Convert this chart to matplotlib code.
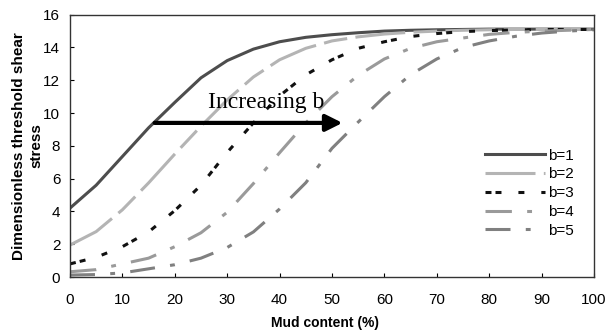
import numpy as np
import matplotlib
matplotlib.use("Agg")
import matplotlib.pyplot as plt

plt.rcParams['font.family'] = ['Liberation Sans', 'DejaVu Sans']
plt.rcParams['lines.scale_dashes'] = False

# mud content (%) and dimensionless threshold shear stress for each b
mud = [0, 5, 10, 15, 20, 25, 30, 35, 40, 45, 50, 55, 60, 65, 70, 75, 80, 85, 90, 95, 100]
b1 = [4.2, 5.6, 7.35, 9.1, 10.65, 12.15, 13.2, 13.9, 14.35, 14.62, 14.78, 14.9, 15.0, 15.05,
      15.08, 15.1, 15.12, 15.12, 15.12, 15.12, 15.12]
b2 = [1.95, 2.77, 4.1, 5.74, 7.5, 9.2, 10.8, 12.2, 13.25, 13.95, 14.4, 14.65, 14.82, 14.93,
      15.0, 15.05, 15.08, 15.1, 15.1, 15.1, 15.1]
b3 = [0.8, 1.2, 1.85, 2.75, 4.05, 5.6, 7.6, 9.4, 11.05, 12.33, 13.25, 13.95, 14.35, 14.67,
      14.85, 14.97, 15.03, 15.07, 15.1, 15.1, 15.1]
b4 = [0.32, 0.45, 0.8, 1.15, 1.85, 2.7, 3.95, 5.7, 7.58, 9.4, 11.0, 12.3, 13.3, 13.95,
      14.35, 14.58, 14.8, 14.92, 15.0, 15.05, 15.1]
b5 = [0.12, 0.15, 0.25, 0.5, 0.75, 1.15, 1.8, 2.75, 4.15, 5.75, 7.85, 9.45, 11.0, 12.34,
      13.3, 14.0, 14.4, 14.68, 14.88, 15.0, 15.08]
labels = ['b=1', 'b=2', 'b=3', 'b=4', 'b=5']

fig = plt.figure(figsize=(6.16, 3.31), dpi=100)
ax = fig.add_axes([0.1136, 0.1631, 0.8507, 0.7925])

lw = 2.2
ax.plot(mud, b1, color='#4d4d4d', lw=lw, label=labels[0])
ax.plot(mud, b2, color='#b4b4b4', lw=lw, dashes=(36, 6, 17, 6), label=labels[1])
ax.plot(mud, b3, color='#111111', lw=lw, dashes=(4.3, 2.9, 4.3, 12.2, 4.3, 12.2), label=labels[2])
ax.plot(mud, b4, color='#9a9a9a', lw=lw, dashes=(19, 11, 3.5, 11), label=labels[3])
ax.plot(mud, b5, color='#808080', lw=lw, dashes=(18, 11, 3.5, 11), label=labels[4])

# arrow and note showing the direction of increasing b
ax.annotate('', xy=(52, 9.4), xytext=(16.15, 9.4),
            arrowprops=dict(arrowstyle='-|>', lw=3, color='black',
                            mutation_scale=25, shrinkA=0, shrinkB=0))
ax.text(26.4, 10.3, 'Increasing b', fontfamily='Liberation Serif', fontsize=17,
        va='baseline', ha='left')

ax.set_xlim(0, 100)
ax.set_ylim(0, 16)
ax.set_xticks(np.arange(0, 101, 10))
ax.set_yticks(np.arange(0, 17, 2))
ax.tick_params(axis='both', direction='in', length=3, width=0.8, labelsize=11)
ax.tick_params(axis='x', pad=11.5)
ax.tick_params(axis='y', pad=7)
for s in ax.spines.values():
    s.set_linewidth(1)
    s.set_color('#333333')

ax.set_xlabel('Mud content (%)', fontweight='bold', fontsize=10)
ax.xaxis.set_label_coords(0.487, -0.149)
ax.set_ylabel('Dimensionless threshold shear\nstress', fontweight='bold', fontsize=11,
              linespacing=1.3)
ax.yaxis.set_label_coords(-0.05, 0.5)

ax.legend(loc='upper left', bbox_to_anchor=(0.792, 0.489), frameon=False, fontsize=11,
          handlelength=3.9, handletextpad=0.2, labelspacing=0.31, borderpad=0,
          borderaxespad=0)

fig.savefig('out.png', dpi=100)
